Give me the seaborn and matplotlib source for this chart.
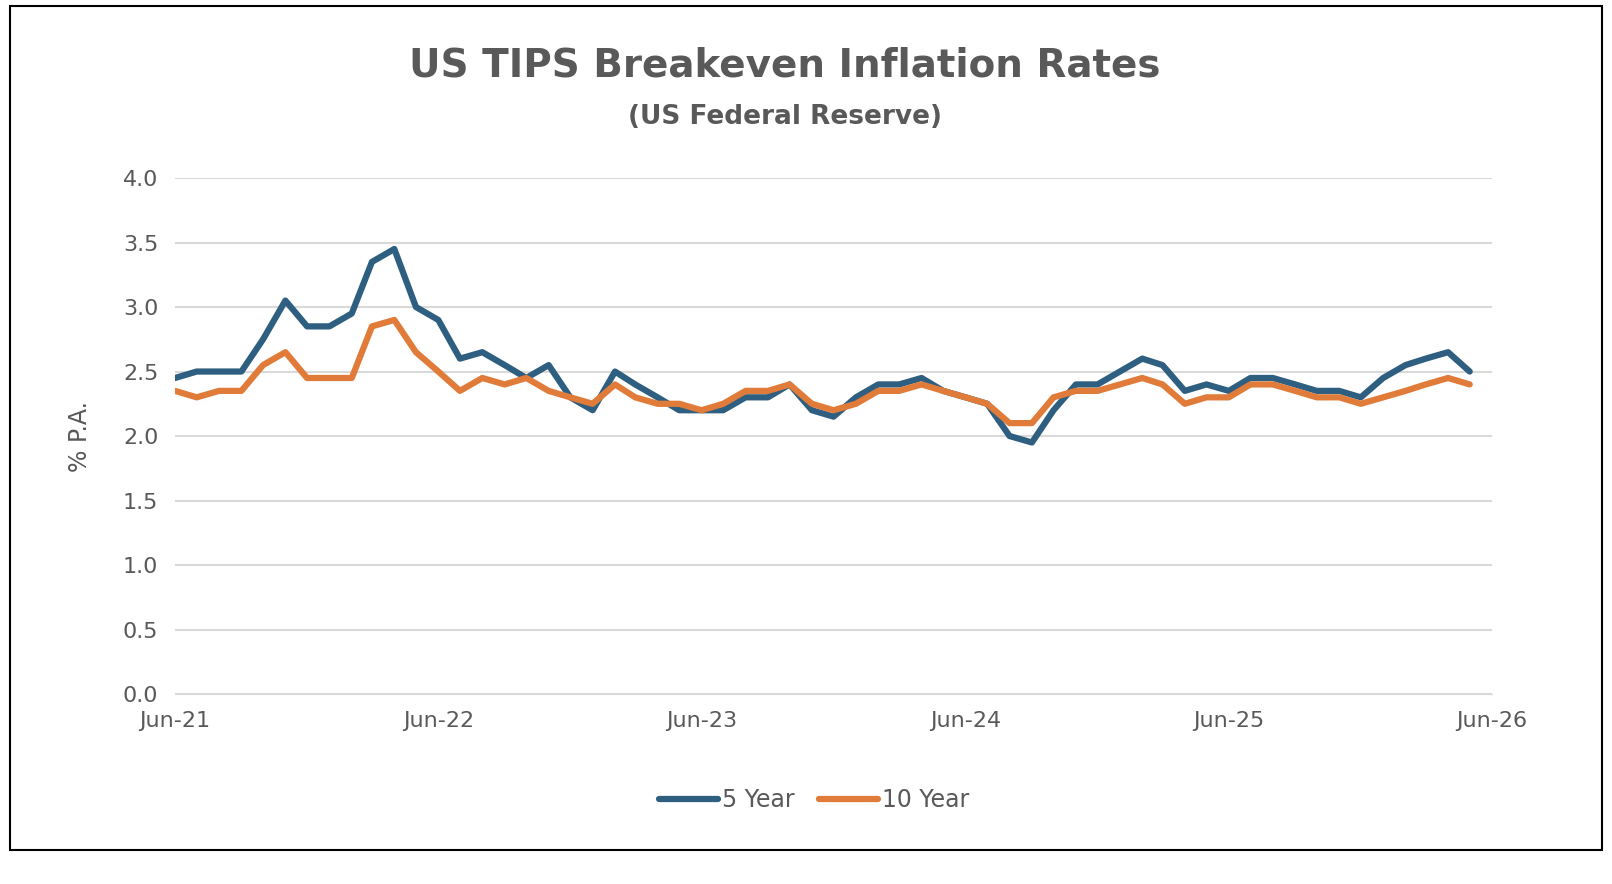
import matplotlib
matplotlib.use("Agg")
import matplotlib.pyplot as plt
from matplotlib.patches import Rectangle
from matplotlib.lines import Line2D
import seaborn as sns
import pandas as pd

dates = pd.date_range("2021-06-01", "2026-05-01", freq="MS")
five_year = [2.45,2.50,2.50,2.50,2.75,3.05,2.85,2.85,2.95,3.35,3.45,3.00,2.90,2.60,2.65,2.55,2.45,2.55,2.30,
             2.20,2.50,2.40,2.30,2.20,2.20,2.20,2.30,2.30,2.40,2.20,2.15,2.30,2.40,2.40,2.45,2.35,2.30,2.25,
             2.00,1.95,2.20,2.40,2.40,2.50,2.60,2.55,2.35,2.40,2.35,2.45,2.45,2.40,2.35,2.35,2.30,2.45,2.55,
             2.60,2.65,2.50]
ten_year = [2.35,2.30,2.35,2.35,2.55,2.65,2.45,2.45,2.45,2.85,2.90,2.65,2.50,2.35,2.45,2.40,2.45,2.35,2.30,
            2.25,2.40,2.30,2.25,2.25,2.20,2.25,2.35,2.35,2.40,2.25,2.20,2.25,2.35,2.35,2.40,2.35,2.30,2.25,
            2.10,2.10,2.30,2.35,2.35,2.40,2.45,2.40,2.25,2.30,2.30,2.40,2.40,2.35,2.30,2.30,2.25,2.30,2.35,
            2.40,2.45,2.40]
tick_dates = pd.to_datetime(["2021-06-01","2022-06-01","2023-06-01","2024-06-01","2025-06-01","2026-06-01"])
tick_labels = ["Jun-21","Jun-22","Jun-23","Jun-24","Jun-25","Jun-26"]

df = pd.DataFrame({"date": list(dates)*2, "value": five_year+ten_year,
                   "series": ["5 Year"]*len(dates)+["10 Year"]*len(dates)})

sns.set_style("white")
plt.rcParams['font.family'] = ['DejaVu Sans']
fig = plt.figure(figsize=(16.12, 8.84), dpi=100)
ax = fig.add_axes([0.1086, 0.2149, 0.817, 0.5837])
sns.lineplot(data=df, x="date", y="value", hue="series",
             palette={"5 Year": "#2F5F80", "10 Year": "#E07B39"}, linewidth=4.5, ax=ax, legend=False)
ax.set_xlim(tick_dates[0], tick_dates[-1])
ax.set_ylim(0, 4)
ax.set_yticks([i*0.5 for i in range(9)])
ax.set_yticklabels([f"{i*0.5:.1f}" for i in range(9)])
ax.set_xticks(tick_dates)
ax.set_xticklabels(tick_labels)
ax.grid(axis="y", color="#D9D9D9", linewidth=1.5)
for s in ["top", "right", "left"]:
    ax.spines[s].set_visible(False)
ax.spines["bottom"].set_color("#D9D9D9")
ax.tick_params(axis="both", labelsize=16, colors="#595959", length=0, pad=12)
ax.set_xlabel("")
ax.set_ylabel("% P.A.", fontsize=17, color="#595959", labelpad=22)
fig.text(0.487, 0.926, "US TIPS Breakeven Inflation Rates", ha="center", va="center",
         fontsize=28, fontweight="bold", color="#595959")
fig.text(0.487, 0.868, "(US Federal Reserve)", ha="center", va="center",
         fontsize=19, fontweight="bold", color="#595959")
handles = [Line2D([], [], color="#2F5F80", lw=4.5), Line2D([], [], color="#E07B39", lw=4.5)]
fig.legend(handles, ["5 Year", "10 Year"], loc="center", bbox_to_anchor=(0.505, 0.095), ncol=2,
           frameon=False, fontsize=17, labelcolor="#595959", handlelength=2.5,
           handletextpad=0.2, columnspacing=1.0)
fig.add_artist(Rectangle((0.006, 0.038), 0.988, 0.955, transform=fig.transFigure,
                         fill=False, edgecolor="black", linewidth=1.5))
fig.savefig("out.png", dpi=100)
